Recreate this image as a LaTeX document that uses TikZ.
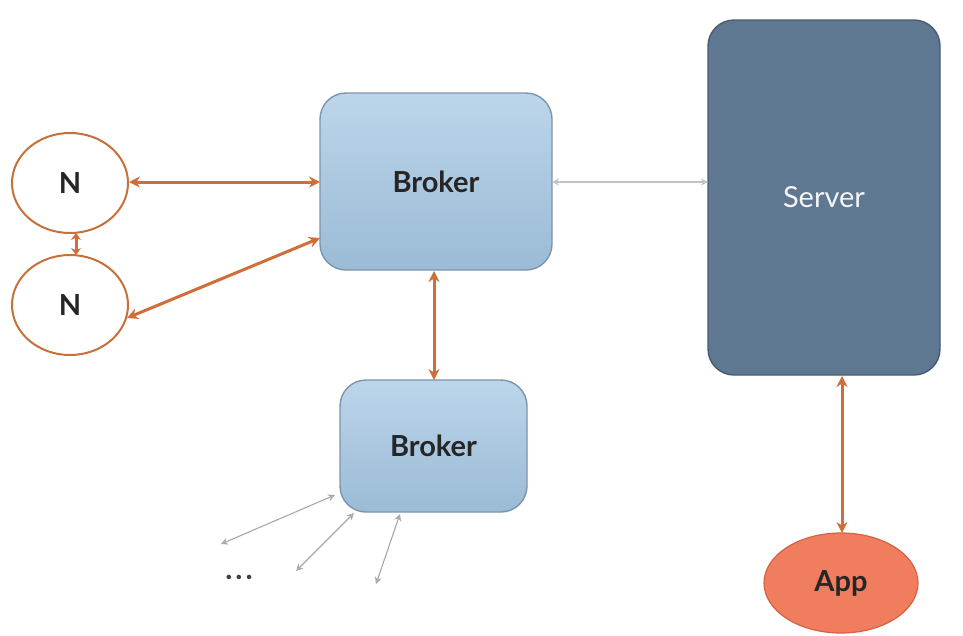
\documentclass[tikz,border=0pt]{standalone}
\usepackage{fontspec}
\setmainfont{Lato}
\usetikzlibrary{arrows.meta,shapes.geometric}
\definecolor{brokfillT}{HTML}{BCD5EA}
\definecolor{brokfillB}{HTML}{9BBBD6}
\definecolor{brokline}{HTML}{7E94A8}
\definecolor{servfill}{HTML}{5E7892}
\definecolor{servline}{HTML}{465C72}
\definecolor{orangearr}{HTML}{CF6E38}
\definecolor{ellline}{HTML}{C6703C}
\definecolor{appfill}{HTML}{F07E5E}
\definecolor{appline}{HTML}{D4613F}
\definecolor{grayarr}{HTML}{A8A8A8}
\tikzset{
  brokerbox/.style={draw=brokline, line width=1.4pt, rounded corners=26pt, top color=brokfillT, bottom color=brokfillB, font=\fontsize{29}{31}\selectfont\bfseries, text=black!85},
  serverbox/.style={draw=servline, line width=1.4pt, rounded corners=26pt, fill=servfill, font=\fontsize{29}{31}\selectfont, text=white!92!gray},
  nnode/.style={ellipse, draw=ellline, line width=2pt, fill=white, minimum width=116pt, minimum height=100pt, inner sep=0pt, font=\fontsize{29}{31}\selectfont\bfseries, text=black!85},
  appnode/.style={ellipse, draw=appline, line width=1.2pt, fill=appfill, minimum width=154pt, minimum height=100pt, inner sep=0pt, font=\fontsize{29}{31}\selectfont\bfseries, text=black!85},
  orarrow/.style={draw=orangearr, line width=3pt, {Stealth[length=11pt,width=11pt]}-{Stealth[length=11pt,width=11pt]}},
  orshort/.style={draw=orangearr, line width=3pt, {Stealth[length=7pt,width=10pt]}-{Stealth[length=7pt,width=10pt]}},
  grarrow/.style={draw=grayarr, line width=1.1pt, {Stealth[length=7pt,width=7pt,open]}-{Stealth[length=7pt,width=7pt,open]}},
}
\begin{document}
\begin{tikzpicture}[x=1pt,y=-1pt]
\useasboundingbox[fill=white] (0,0) rectangle (963,635);
% nodes
\node[brokerbox, minimum width=232pt, minimum height=177pt] (b1) at (436,181.5) {Broker};
\node[brokerbox, minimum width=187pt, minimum height=132pt] (b2) at (433.5,446) {Broker};
\node[serverbox, minimum width=232pt, minimum height=355pt] (srv) at (824,197.5) {Server};
\node[nnode] (n1) at (70,183) {N};
\node[nnode] (n2) at (70,305) {N};
\node[appnode] (app) at (841,583) {App};
% coordinates
\coordinate (b1l) at (320,182);
\coordinate (b1ll) at (320,238);
\coordinate (n1r) at (129,182);
\coordinate (n2r) at (127,318);
\coordinate (b1r) at (552,182);
\coordinate (srvl) at (708,182);
\coordinate (n1b) at (76,233);
\coordinate (n2t) at (76,255);
\coordinate (b1b) at (434,271);
\coordinate (b2t) at (434,380);
\coordinate (srvb) at (842,376);
\coordinate (appt) at (842,533);
\coordinate (g1a) at (335,495);
\coordinate (g1b) at (221,544);
\coordinate (g2a) at (354,513);
\coordinate (g2b) at (296,571);
\coordinate (g3a) at (400,514);
\coordinate (g3b) at (376,584);
% connectors
\draw[orarrow] (n1r) -- (b1l);
\draw[orarrow] (n2r) -- (b1ll);
\draw[orshort] (n1b) -- (n2t);
\draw[orarrow] (b1b) -- (b2t);
\draw[orarrow] (srvb) -- (appt);
\draw[grarrow, draw=grayarr!70] (b1r) -- (srvl);
\draw[grarrow] (g1a) -- (g1b);
\draw[grarrow] (g2a) -- (g2b);
\draw[grarrow] (g3a) -- (g3b);
\node[font=\fontsize{30}{32}\selectfont\bfseries, text=black!75, inner sep=0pt] (dots) at (239,577) {.\hspace{3pt}.\hspace{3pt}.};
\end{tikzpicture}
\end{document}
